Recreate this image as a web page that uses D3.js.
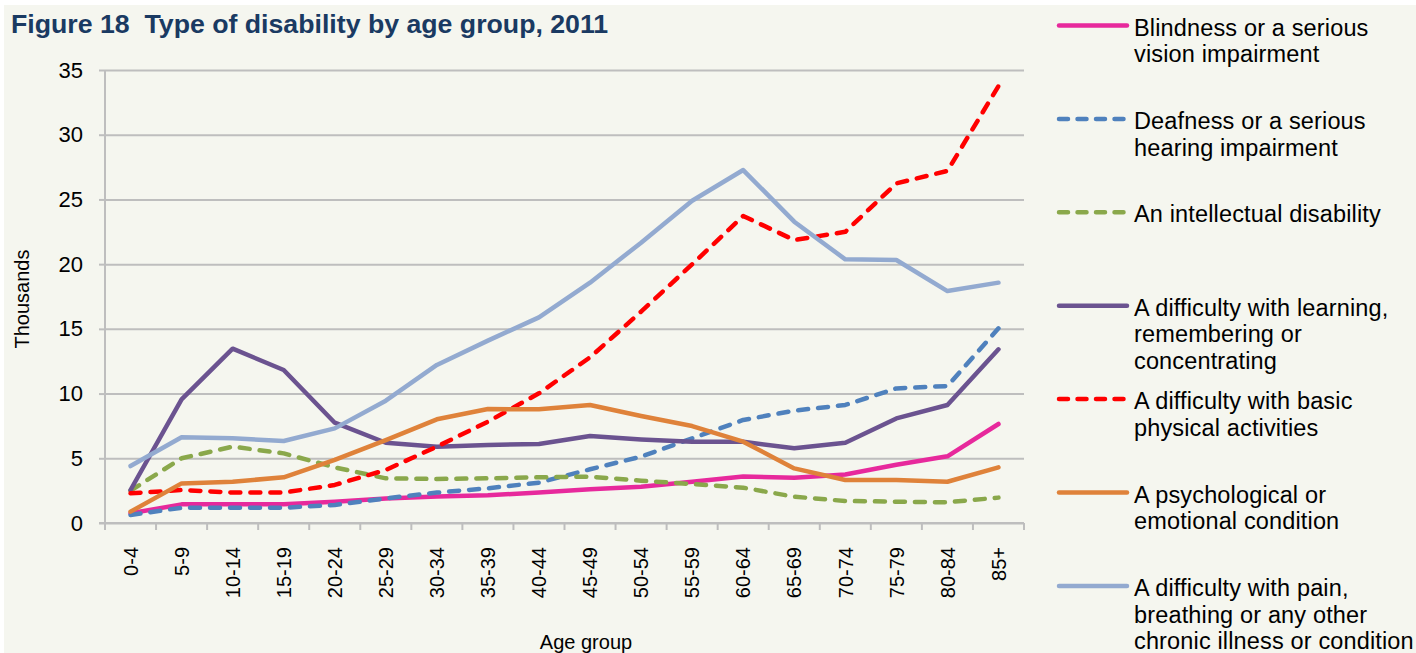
<!DOCTYPE html>
<html>
<head>
<meta charset="utf-8">
<title>Type of disability by age group, 2011</title>
<script src="https://d3js.org/d3.v7.min.js"></script>
<style>
  html, body { margin: 0; padding: 0; background: #ffffff; }
  svg { display: block; font-family: "Liberation Sans", Arial, sans-serif; }
</style>
</head>
<body>
<script>
// age groups along the x axis
const ageGroups = ["0-4", "5-9", "10-14", "15-19", "20-24", "25-29", "30-34", "35-39", "40-44",
  "45-49", "50-54", "55-59", "60-64", "65-69", "70-74", "75-79", "80-84", "85+"]

// values in thousands
const blindness = [0.75, 1.44, 1.44, 1.44, 1.65, 1.9, 2.05, 2.15, 2.35, 2.6, 2.8, 3.19, 3.6, 3.5, 3.75, 4.5, 5.15, 7.65]
const deafness = [0.62, 1.18, 1.18, 1.18, 1.39, 1.9, 2.35, 2.68, 3.12, 4.15, 5.13, 6.54, 7.96, 8.68, 9.12, 10.4, 10.58, 15.04]
const intellectual = [2.5, 5.0, 5.9, 5.38, 4.3, 3.45, 3.4, 3.45, 3.53, 3.58, 3.27, 3.01, 2.73, 2.03, 1.7, 1.65, 1.6, 1.96]
const learning = [2.55, 9.55, 13.47, 11.82, 7.75, 6.2, 5.9, 6.03, 6.1, 6.72, 6.46, 6.28, 6.28, 5.77, 6.2, 8.08, 9.12, 13.42]
const physical = [2.29, 2.55, 2.35, 2.35, 2.94, 4.1, 5.9, 7.83, 10.02, 12.8, 16.33, 19.99, 23.72, 21.86, 22.5, 26.24, 27.2, 33.76]
const psychological = [0.88, 3.06, 3.19, 3.53, 4.87, 6.41, 8.01, 8.81, 8.78, 9.12, 8.27, 7.49, 6.28, 4.22, 3.32, 3.32, 3.19, 4.3]
const pain = [4.4, 6.62, 6.54, 6.34, 7.31, 9.45, 12.21, 14.09, 15.89, 18.57, 21.66, 24.9, 27.27, 23.28, 20.37, 20.32, 17.92, 18.57]

const yTicks = [0, 5, 10, 15, 20, 25, 30, 35]

const seriesNames = [
  ["Blindness or a serious", "vision impairment"],
  ["Deafness or a serious", "hearing impairment"],
  ["An intellectual disability"],
  ["A difficulty with learning,", "remembering or", "concentrating"],
  ["A difficulty with basic", "physical activities"],
  ["A psychological or", "emotional condition"],
  ["A difficulty with pain,", "breathing or any other", "chronic illness or condition"]
]
const seriesValues = [blindness, deafness, intellectual, learning, physical, psychological, pain]
const seriesColors = ["#e7299c", "#4f81bd", "#8aa84b", "#6b5390", "#ff0000", "#df823a", "#93aad0"]
const seriesDashed = [false, true, true, false, true, false, false]

const width = 1416
const height = 653
const plot = {left: 105, right: 1024, top: 70, bottom: 523}

const svg = d3.select("body").append("svg")
  .attr("width", width)
  .attr("height", height)

// chart panel
svg.append("rect")
  .attr("x", 4).attr("y", 5)
  .attr("width", width - 4).attr("height", height - 5)
  .attr("fill", "#f5f6ef")

svg.append("text")
  .attr("x", 11).attr("y", 33)
  .attr("font-size", 26.7).attr("font-weight", "bold")
  .attr("fill", "#1a3a62")
  .attr("xml:space", "preserve")
  .text("Figure 18  Type of disability by age group, 2011")

const x = d3.scaleBand().domain(ageGroups).range([plot.left, plot.right]).padding(0)
const y = d3.scaleLinear().domain([0, 35]).range([plot.bottom, plot.top])

// gridlines + y labels
const yAxis = svg.append("g")
  .attr("transform", `translate(${plot.left},0)`)
  .call(d3.axisLeft(y).tickValues(yTicks).tickSize(6).tickPadding(16))
yAxis.select(".domain").remove()
yAxis.selectAll(".tick line").attr("stroke", "#bebebe").attr("stroke-width", 2)
yAxis.selectAll(".tick").append("line")
  .attr("x1", 0).attr("x2", plot.right - plot.left)
  .attr("stroke", "#bebebe").attr("stroke-width", 2)
yAxis.selectAll(".tick text").attr("font-size", 22).attr("fill", "#000")
  .attr("font-family", "Liberation Sans, Arial, sans-serif")

// y axis line
svg.append("line")
  .attr("x1", plot.left).attr("x2", plot.left)
  .attr("y1", plot.top).attr("y2", plot.bottom)
  .attr("stroke", "#bebebe").attr("stroke-width", 2)

// x axis: ticks between categories
const xAxis = svg.append("g")
svg.append("line")
  .attr("x1", plot.left - 6).attr("x2", plot.right)
  .attr("y1", plot.bottom).attr("y2", plot.bottom)
  .attr("stroke", "#bebebe").attr("stroke-width", 2)
const bounds = ageGroups.map(d => x(d)).concat([x(ageGroups[ageGroups.length - 1]) + x.bandwidth()])
xAxis.selectAll("line.xtick")
  .data(bounds)
  .join("line")
  .attr("class", "xtick")
  .attr("x1", d => d).attr("x2", d => d)
  .attr("y1", plot.bottom).attr("y2", plot.bottom + 7)
  .attr("stroke", "#bebebe").attr("stroke-width", 2)

xAxis.selectAll("text.xlab")
  .data(ageGroups)
  .join("text")
  .attr("class", "xlab")
  .attr("transform", d => `translate(${x(d) + x.bandwidth() / 2},${plot.bottom + 24}) rotate(-90)`)
  .attr("text-anchor", "end")
  .attr("dy", "0.36em")
  .attr("font-size", 20)
  .text(d => d)

// axis titles
svg.append("text")
  .attr("transform", "translate(29,299) rotate(-90)")
  .attr("text-anchor", "middle")
  .attr("font-size", 20)
  .text("Thousands")

svg.append("text")
  .attr("x", 586).attr("y", 649)
  .attr("text-anchor", "middle")
  .attr("font-size", 20)
  .text("Age group")

// lines
const line = d3.line()
  .x((d, i) => x(ageGroups[i]) + x.bandwidth() / 2)
  .y(d => y(d))

seriesValues.forEach((vals, i) => {
  svg.append("path")
    .datum(vals)
    .attr("d", line)
    .attr("fill", "none")
    .attr("stroke", seriesColors[i])
    .attr("stroke-width", 4.5)
    .attr("stroke-linejoin", "round")
    .attr("stroke-linecap", "round")
    .attr("stroke-dasharray", seriesDashed[i] ? "10,10" : null)
})

// legend
const legend = svg.append("g")
seriesNames.forEach((lines, i) => {
  const ly = 25.5 + i * 93.4
  legend.append("line")
    .attr("x1", 1059).attr("x2", seriesDashed[i] ? 1124 : 1127)
    .attr("y1", ly).attr("y2", ly)
    .attr("stroke", seriesColors[i])
    .attr("stroke-width", 4.5)
    .attr("stroke-linecap", "round")
    .attr("stroke-dasharray", seriesDashed[i] ? "9,9.5" : null)
  lines.forEach((t, j) => {
    legend.append("text")
      .attr("x", 1134)
      .attr("y", ly + 10 + j * 26.6)
      .attr("font-size", 23.5)
      .attr("letter-spacing", 0.15)
      .attr("fill", "#000")
      .text(t)
  })
})
</script>
</body>
</html>
